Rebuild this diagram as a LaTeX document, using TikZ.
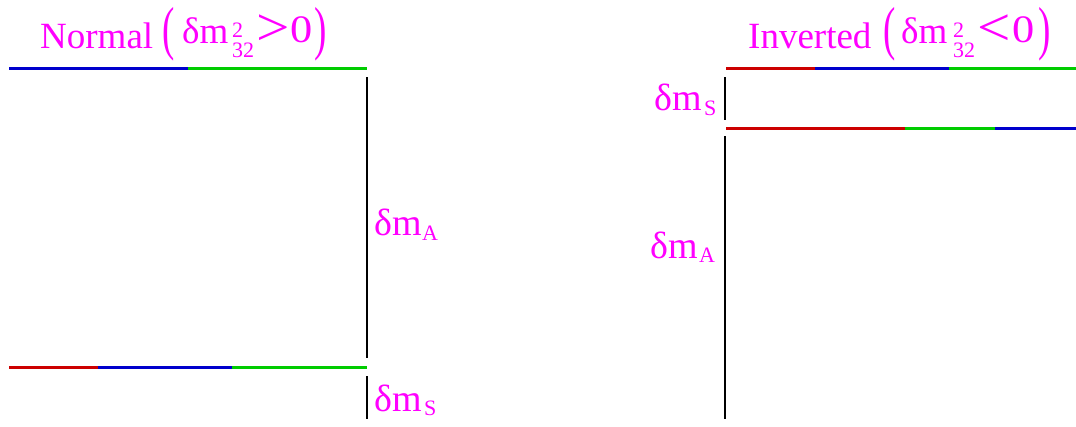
\documentclass[tikz,border=0pt]{standalone}
\usepackage{fontspec}
\setmainfont{Liberation Serif}
\usepackage{graphicx}
\definecolor{lred}{RGB}{204,0,0}
\definecolor{lblue}{RGB}{0,0,204}
\definecolor{lgreen}{RGB}{0,204,0}
\definecolor{mag}{RGB}{255,0,255}
\newcommand{\scrstack}{\begin{tabular}[t]{@{}l@{}}2\\32\end{tabular}}
\begin{document}
\begin{tikzpicture}[x=1pt,y=-1pt,
  level/.style={line width=3pt},
  gap/.style={line width=1.3pt,black},
  txt/.style={text=mag,inner sep=0pt,anchor=base west},
  title/.style={txt,font=\fontsize{37}{40}\selectfont},
  scr/.style={txt,font=\fontsize{22}{19}\selectfont},
  paren/.style={text=mag,inner sep=0pt,anchor=center,font=\fontsize{37}{40}\selectfont},
  lab/.style={txt,font=\fontsize{38}{40}\selectfont},
  sub/.style={txt,font=\fontsize{22}{22}\selectfont}]
\useasboundingbox (0,0) rectangle (1076,426);
% ---------- Normal hierarchy ----------
\node[title] (tn) at (40,48) {Normal};
\node[paren] (tnl) at (168.5,34) {\scalebox{1}[1.6]{(}};
\node[title] (tndm) at (182,43) {δm};
\node[scr] (tnsc) at (232,37) {\scrstack};
\node[paren] (tngt) at (273,30) {\scalebox{1.6}[1.45]{>}};
\node[title] (tn0) at (290,42) {\scalebox{1.2}[1.05]{0}};
\node[paren] (tnr) at (321,34) {\scalebox{1}[1.6]{)}};
\coordinate (n1a) at (9,68); \coordinate (n1b) at (188,68); \coordinate (n1c) at (367,68);
\draw[level,lblue] (n1a) -- (n1b);
\draw[level,lgreen] (n1b) -- (n1c);
\coordinate (n2a) at (9,367); \coordinate (n2b) at (98,367); \coordinate (n2c) at (232,367); \coordinate (n2d) at (367,367);
\draw[level,lred] (n2a) -- (n2b);
\draw[level,lblue] (n2b) -- (n2c);
\draw[level,lgreen] (n2c) -- (n2d);
\coordinate (nva) at (367,77); \coordinate (nvb) at (367,358);
\draw[gap] (nva) -- (nvb);
\coordinate (nvc) at (367,376); \coordinate (nvd) at (367,419);
\draw[gap] (nvc) -- (nvd);
\node[lab] (nA) at (374,235) {δm};
\node[sub] (nAs) at (422,240) {A};
\node[lab] (nS) at (374,411) {δm};
\node[sub] (nSs) at (424,415) {S};
% ---------- Inverted hierarchy ----------
\node[title] (ti) at (748,48) {Inverted};
\node[paren] (til) at (890,34) {\scalebox{1}[1.6]{(}};
\node[title] (tidm) at (901,43) {δm};
\node[scr] (tisc) at (953,37) {\scrstack};
\node[paren] (tilt) at (994,30) {\scalebox{1.6}[1.45]{<}};
\node[title] (ti0) at (1012,42) {\scalebox{1.2}[1.05]{0}};
\node[paren] (tir) at (1045,34) {\scalebox{1}[1.6]{)}};
\coordinate (i1a) at (726,68); \coordinate (i1b) at (815,68); \coordinate (i1c) at (949,68); \coordinate (i1d) at (1076,68);
\draw[level,lred] (i1a) -- (i1b);
\draw[level,lblue] (i1b) -- (i1c);
\draw[level,lgreen] (i1c) -- (i1d);
\coordinate (i2a) at (726,128); \coordinate (i2b) at (905,128); \coordinate (i2c) at (995,128); \coordinate (i2d) at (1076,128);
\draw[level,lred] (i2a) -- (i2b);
\draw[level,lgreen] (i2b) -- (i2c);
\draw[level,lblue] (i2c) -- (i2d);
\coordinate (iva) at (725,77); \coordinate (ivb) at (725,120);
\draw[gap] (iva) -- (ivb);
\coordinate (ivc) at (725,136); \coordinate (ivd) at (725,419);
\draw[gap] (ivc) -- (ivd);
\node[lab] (iS) at (654,110) {δm};
\node[sub] (iSs) at (704,115) {S};
\node[lab] (iA) at (650,258) {δm};
\node[sub] (iAs) at (699,262) {A};
\end{tikzpicture}
\end{document}
